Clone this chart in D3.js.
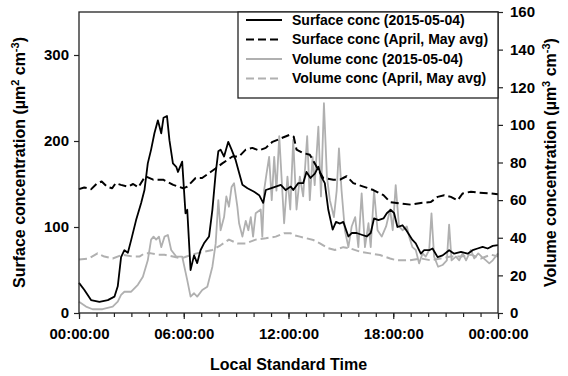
<!DOCTYPE html>
<html>
<head>
<meta charset="utf-8">
<script src="https://cdn.jsdelivr.net/npm/d3@7"></script>
<style>
  body { margin: 0; background: #fff; }
  svg { display: block; font-family: "Liberation Sans", Arial, sans-serif; }
</style>
</head>
<body>
<svg id="chart" width="568" height="376"></svg>
<script>
// ---- data (hour of day, value) ----
const surfaceDay = [
  [0,35],[0.30,27],[0.69,15],[1.17,13],[1.65,15],[2.03,19],[2.22,31],[2.41,65],[2.60,73],[2.80,70],
  [2.99,85],[3.27,108],[3.56,128],[3.75,143],[3.94,174],[4.13,190],[4.32,209],[4.52,224],[4.71,209],[4.84,227],
  [5.04,229],[5.18,201],[5.38,174],[5.57,170],[5.67,164],[5.91,176],[6.10,116],[6.20,120],[6.39,50],[6.59,67],
  [6.77,58],[6.96,73],[7.16,81],[7.45,89],[7.64,120],[7.83,163],[7.98,188],[8.11,190],[8.31,182],[8.55,199],
  [8.74,190],[8.97,178],[9.17,163],[9.36,149],[9.65,145],[9.84,143],[10.03,141],[10.32,137],[10.55,128],[10.70,143],
  [10.98,145],[11.27,147],[11.56,149],[11.84,143],[12.13,147],[12.27,143],[12.56,151],[12.84,151],[13.03,164],[13.26,157],
  [13.51,162],[13.71,170],[13.89,158],[14.08,151],[14.28,120],[14.53,97],[14.72,106],[14.95,104],[15.14,106],[15.43,89],
  [15.62,93],[15.90,93],[16.19,91],[16.48,89],[16.71,93],[16.90,110],[17.15,108],[17.44,110],[17.63,116],[17.86,120],
  [18.05,116],[18.24,100],[18.53,102],[18.72,97],[18.91,91],[19.10,85],[19.29,81],[19.58,69],[19.77,73],[20.06,73],
  [20.25,75],[20.54,65],[20.83,67],[21.20,73],[21.49,69],[21.88,71],[22.26,69],[22.55,73],[22.83,75],[23.12,77],
  [23.41,75],[23.70,78],[24,79]
];
const surfaceAvg = [
  [0,144],[0.3,146],[0.7,144],[1.0,150],[1.3,153],[1.6,147],[1.9,145],[2.1,151],[2.4,149],[2.8,147],
  [3.1,150],[3.4,146],[3.79,159],[4.25,155],[4.82,155],[5.4,149],[5.97,145],[6.2,147],[6.68,157],[7.05,157],
  [7.54,164],[7.82,168],[8.21,174],[8.79,182],[9.17,182],[9.55,190],[9.93,192],[10.3,189],[10.70,192],[11.08,199],
  [11.56,203],[12.04,207],[12.3,205],[12.46,190],[12.84,186],[13.22,184],[13.61,170],[13.99,157],[14.57,155],[14.95,155],
  [15.33,159],[15.71,151],[16.29,147],[16.86,143],[17.44,137],[17.82,129],[18.2,128],[19.0,126],[19.58,128],[20.15,129],
  [20.54,135],[20.92,137],[21.3,135],[21.69,131],[21.97,139],[22.45,141],[22.83,140],[23.6,139],[24,138]
];
const volumeDay = [
  [0,6],[0.40,3.4],[0.78,2],[1.35,2],[1.93,3.4],[2.22,6],[2.41,9.6],[2.60,11.3],[2.99,11.3],[3.37,15],
  [3.66,19.3],[3.94,28],[4.13,39],[4.27,40.6],[4.42,39],[4.58,40.6],[4.71,35],[4.90,40.6],[5.09,41.5],[5.28,33.5],
  [5.57,30],[5.91,30],[6.20,17.5],[6.39,8.7],[6.59,10.5],[6.77,8.7],[7.06,12.2],[7.35,14],[7.64,24.6],[7.83,37],
  [7.98,60],[8.11,44],[8.31,51],[8.44,62],[8.59,56.5],[8.74,67],[8.88,69],[9.07,56.5],[9.17,47.7],[9.36,40.6],
  [9.55,49],[9.70,44],[9.84,51],[9.97,40.6],[10.12,53],[10.41,55],[10.50,40.6],[10.60,65],[10.74,74],[10.89,83],
  [11.04,60],[11.18,83],[11.31,65],[11.47,94],[11.75,47.7],[11.94,72.5],[12.10,55],[12.27,92],[12.46,55],[12.65,72.5],
  [12.84,62],[13.07,94],[13.22,60],[13.38,83],[13.50,68],[13.71,99],[13.86,62],[14.03,111.5],[14.20,72.5],[14.37,60],
  [14.60,51],[14.76,65],[14.89,87.5],[15.04,65],[15.23,44],[15.43,35],[15.62,46],[15.82,51],[16.00,35],[16.19,63.6],
  [16.38,35],[16.58,47.7],[16.71,35],[16.90,65],[17.10,44],[17.34,40.6],[17.59,46],[17.82,55],[17.97,44],[18.14,68],
  [18.33,46],[18.53,44],[18.78,46],[18.91,40.6],[19.10,35],[19.29,33.5],[19.48,26.4],[19.68,31.7],[19.86,30],[20.06,33.5],
  [20.19,53],[20.34,30],[20.57,24.6],[20.82,25.5],[21.07,28],[21.20,47],[21.34,28],[21.59,30],[21.78,28],[21.97,31.7],
  [22.17,28],[22.45,33.5],[22.64,29],[22.87,31.7],[23.06,30],[23.31,28],[23.50,26.4],[23.70,28],[24,31.7]
];
const volumeAvg = [
  [0,28.5],[0.57,29],[1.06,31.7],[1.45,30],[1.93,29],[2.5,31],[3.08,30],[3.46,30],[3.75,31.7],[4.13,31.7],
  [4.52,31],[4.9,31],[5.38,30],[5.86,29],[6.16,30],[6.74,31.7],[7.64,33.5],[8.11,36],[8.59,39],[9.07,37],
  [9.55,37],[10.12,39],[10.70,39.7],[11.27,40.6],[11.75,42.4],[12.13,42.4],[12.27,41.5],[12.65,40.6],[13.03,39.7],[13.42,38.8],
  [13.8,37],[14.28,34.4],[14.66,33.5],[15.14,35],[15.52,34.4],[16.09,32.6],[16.67,31.7],[17.24,30.8],[17.82,29],[18.2,28],
  [18.95,28],[19.58,29],[20.15,28],[20.72,29],[21.3,30],[21.88,30],[22.45,31],[23.02,29],[23.6,31],[24,30]
];
const xTicks = [0, 6, 12, 18, 24];
const xTickLabels = ["00:00:00", "06:00:00", "12:00:00", "18:00:00", "00:00:00"];
const leftTicks = [0, 100, 200, 300];
const rightTicks = [0, 20, 40, 60, 80, 100, 120, 140, 160];
const legendLabels = ["Surface conc (2015-05-04)", "Surface conc (April, May avg)",
                      "Volume conc (2015-05-04)", "Volume conc (April, May avg)"];

// ---- layout ----
const L = 79, R = 498, T = 12, B = 313;
const svg = d3.select("#chart");
const x = d3.scaleLinear().domain([0, 24]).range([L, R]);
const yL = d3.scaleLinear().domain([0, 350]).range([B, T]);
const yR = d3.scaleLinear().domain([0, 160]).range([B, T]);

const gray = "#b0b0b0";
const styles = [
  { color: "#000", dash: null, width: 1.8 },
  { color: "#000", dash: "8,4", width: 2 },
  { color: gray, dash: null, width: 1.8 },
  { color: gray, dash: "8,4", width: 2 }
];

const lineL = d3.line().x(d => x(d[0])).y(d => yL(d[1]));
const lineR = d3.line().x(d => x(d[0])).y(d => yR(d[1]));

function draw(data, gen, st) {
  svg.append("path").datum(data).attr("d", gen)
    .attr("fill", "none").attr("stroke", st.color).attr("stroke-width", st.width)
    .attr("stroke-linejoin", "round")
    .attr("stroke-dasharray", st.dash);
}
draw(volumeAvg, lineR, styles[3]);
draw(volumeDay, lineR, styles[2]);
draw(surfaceAvg, lineL, styles[1]);
draw(surfaceDay, lineL, styles[0]);

// ---- axes ----
const axisColor = "#222";
const fontTick = 15;
function styleAxis(g) {
  g.selectAll(".domain").remove();
  g.selectAll("line").attr("stroke", axisColor).attr("stroke-width", 1.2);
  g.selectAll("text").attr("font-size", fontTick).attr("font-weight", "bold").attr("fill", "#000")
    .attr("font-family", "'Liberation Sans', Arial, sans-serif");
}
// minor x ticks
svg.append("g").attr("transform", `translate(0,${B})`)
  .call(d3.axisBottom(x).tickValues(d3.range(0, 25)).tickSize(4).tickFormat(""))
  .call(styleAxis);
svg.append("g").attr("transform", `translate(0,${B})`)
  .call(d3.axisBottom(x).tickValues(xTicks).tickSize(6).tickPadding(9)
    .tickFormat((d, i) => xTickLabels[i]))
  .call(styleAxis);
svg.append("g").attr("transform", `translate(${L},0)`)
  .call(d3.axisLeft(yL).tickValues(leftTicks).tickSize(5).tickPadding(5).tickFormat(d3.format("d")))
  .call(styleAxis);
svg.append("g").attr("transform", `translate(${R},0)`)
  .call(d3.axisRight(yR).tickValues(rightTicks).tickSize(5).tickPadding(7).tickFormat(d3.format("d")))
  .call(styleAxis);

// frame
svg.append("rect").attr("x", L).attr("y", T).attr("width", R - L).attr("height", B - T)
  .attr("fill", "none").attr("stroke", axisColor).attr("stroke-width", 1.3);

// ---- legend ----
const lg = svg.append("g");
lg.append("rect").attr("x", 238).attr("y", T).attr("width", R - 238).attr("height", 86)
  .attr("fill", "#fff").attr("stroke", axisColor).attr("stroke-width", 1.3);
const rowY = [20, 39.5, 59, 78.5];
legendLabels.forEach((lab, i) => {
  const st = styles[i];
  lg.append("line").attr("x1", 246).attr("x2", 282).attr("y1", rowY[i]).attr("y2", rowY[i])
    .attr("stroke", st.color).attr("stroke-width", st.width).attr("stroke-dasharray", st.dash);
  lg.append("text").attr("x", 292).attr("y", rowY[i]).attr("dy", "0.35em")
    .attr("font-size", 14).attr("font-weight", "bold").text(lab);
});

// ---- axis titles ----
function title(g, main, sup1, mid, sup2) {
  g.append("tspan").text(main);
  g.append("tspan").attr("font-size", 11).attr("dy", -6).text(sup1);
  g.append("tspan").attr("dy", 6).text(mid);
  g.append("tspan").attr("font-size", 11).attr("dy", -6).text(sup2);
  g.append("tspan").attr("dy", 6).text(")");
}
const tl = svg.append("text").attr("transform", `translate(25,${(T + B) / 2}) rotate(-90)`)
  .attr("text-anchor", "middle").attr("font-size", 16).attr("font-weight", "bold");
title(tl, "Surface concentration (\u00b5m", "2", " cm", "-3");
const tr = svg.append("text").attr("transform", `translate(556,${(T + B) / 2}) rotate(-90)`)
  .attr("text-anchor", "middle").attr("font-size", 16).attr("font-weight", "bold");
title(tr, "Volume concentration (\u00b5m", "3", " cm", "-3");
svg.append("text").attr("x", (L + R) / 2).attr("y", 370).attr("text-anchor", "middle")
  .attr("font-size", 16).attr("font-weight", "bold").text("Local Standard Time");
</script>
</body>
</html>
